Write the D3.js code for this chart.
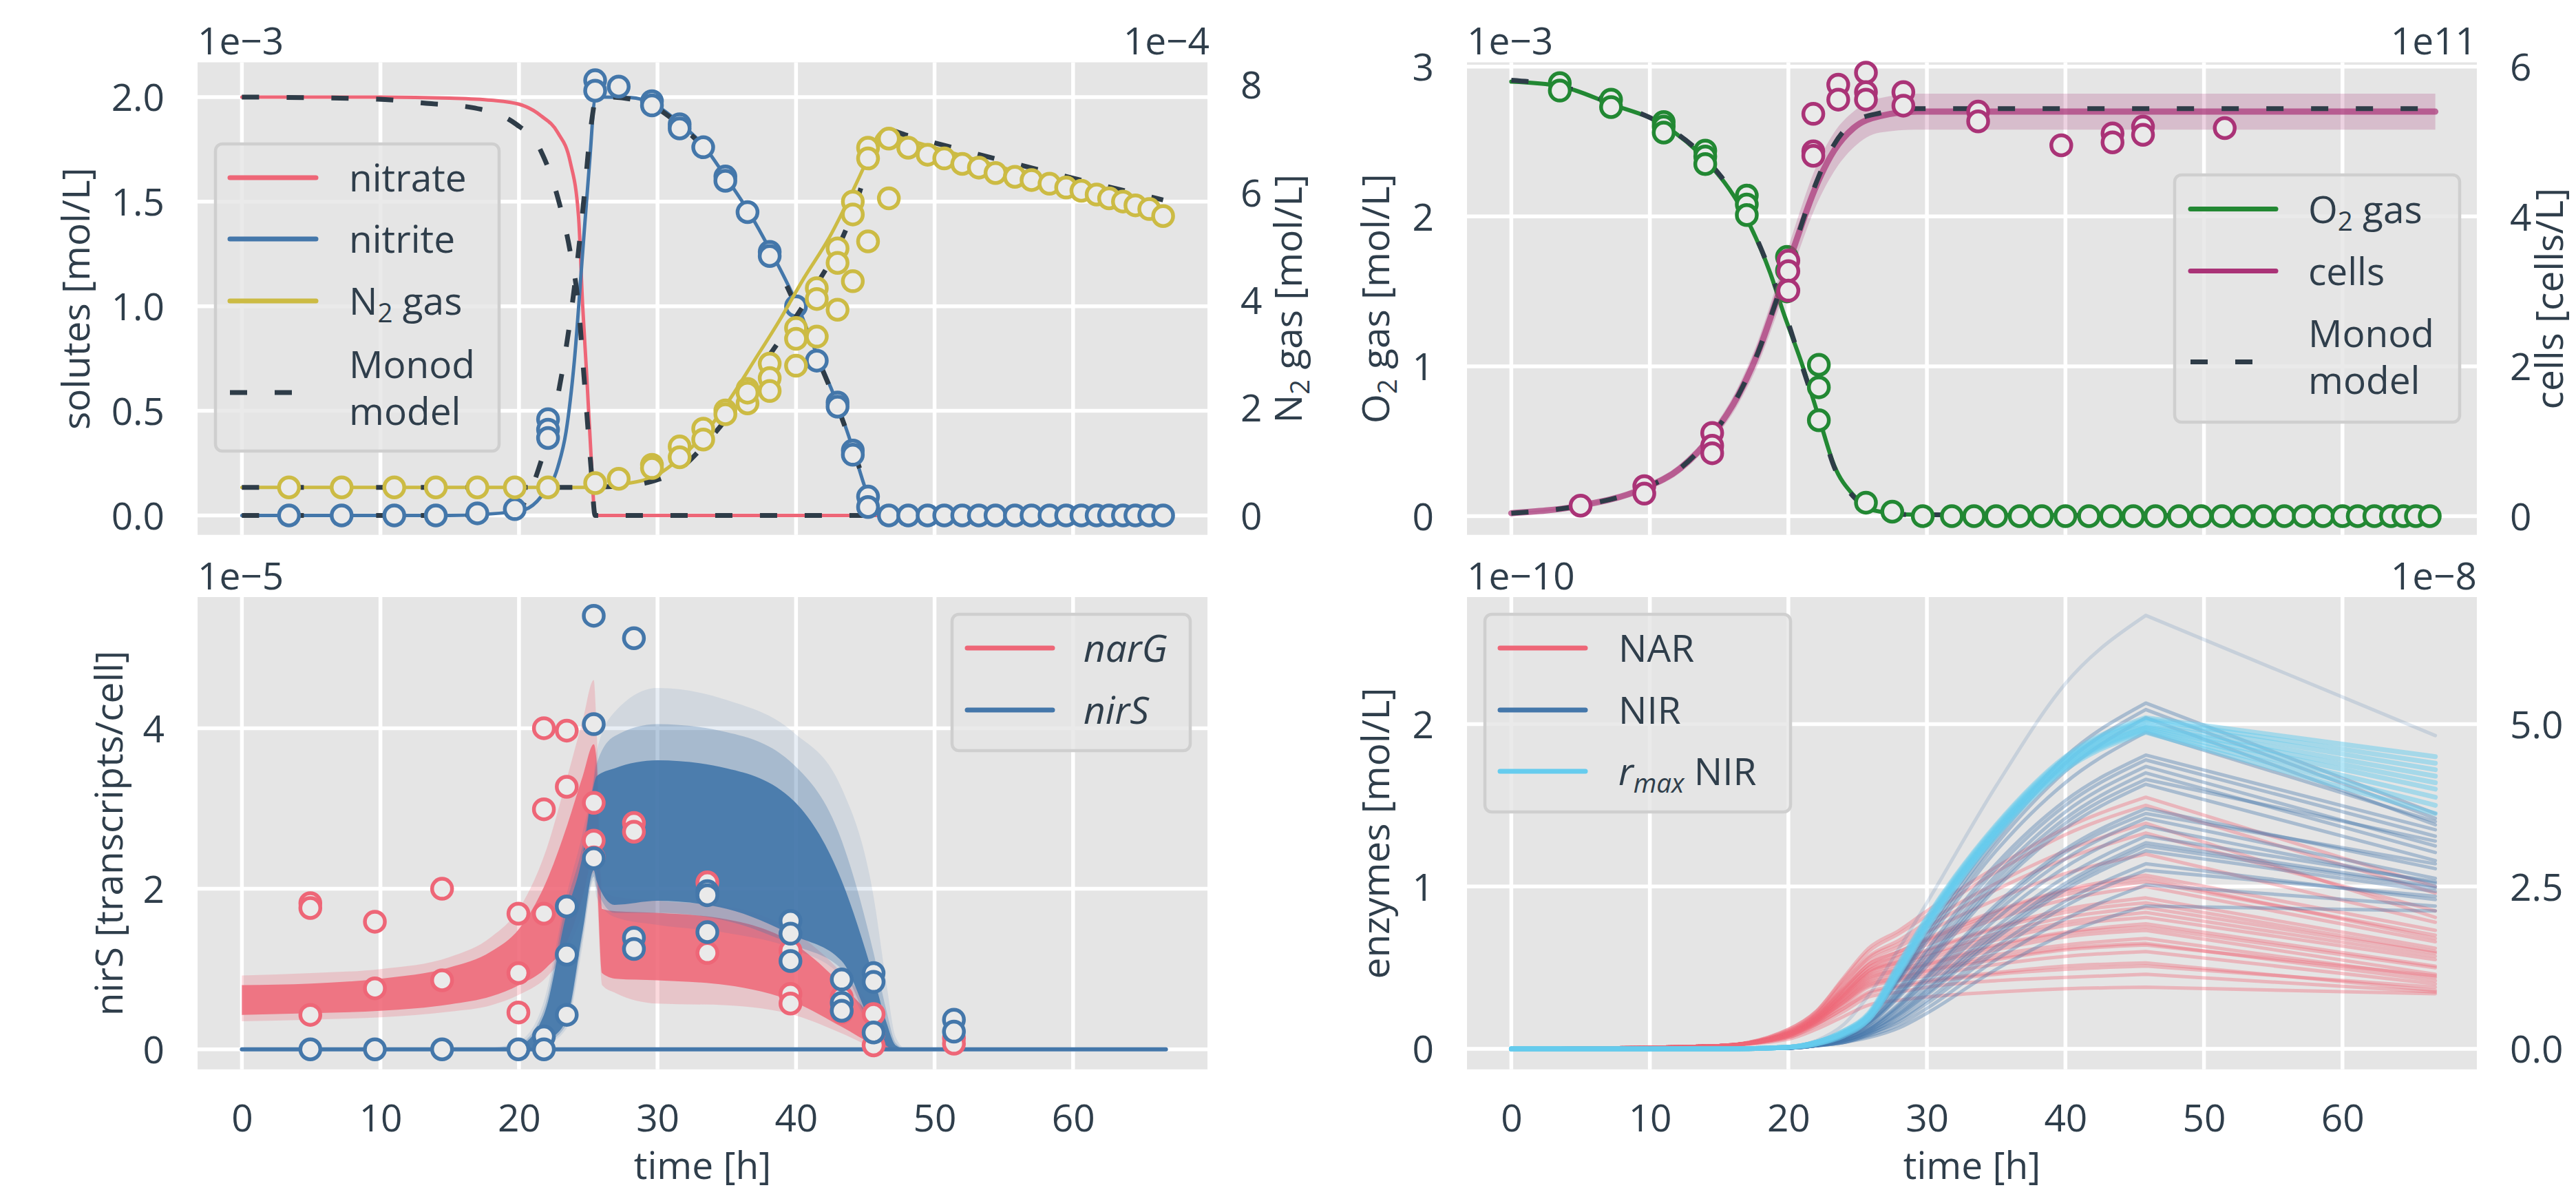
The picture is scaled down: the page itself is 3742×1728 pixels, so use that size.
<!DOCTYPE html>
<html>
<head>
<meta charset="utf-8">
<script src="https://cdn.jsdelivr.net/npm/d3@7"></script>
<style>
  body { margin: 0; background: #fff; }
  text { font-family: "Open Sans", sans-serif; fill: #2f3e4b; white-space: pre; }
</style>
</head>
<body>
<svg id="fig" width="3742" height="1728"></svg>
<script>
// ---------------- data ----------------
// top left: solutes (left axis, 1e-3 mol/L) and N2 gas (right axis, 1e-4 mol/L)
var nitrateT = [0, 10, 15, 18, 20, 21.6, 22.8, 23.7, 24.3, 24.6, 24.9, 25.2, 25.5, 66.5];
var nitrateFit = [2.0, 2.0, 1.995, 1.985, 1.966, 1.91, 1.83, 1.69, 1.43, 1.0, 0.66, 0.29, 0, 0];
var nitrateMonodT = [0, 9.8, 13.3, 16.6, 19.8, 21.6, 22.8, 23.7, 24.3, 24.7, 25.2, 25.5, 66.5];
var nitrateMonod = [2.0, 1.99, 1.97, 1.95, 1.87, 1.74, 1.52, 1.26, 1.0, 0.66, 0.23, 0, 0];

var nitriteT = [0, 15, 20, 21.6, 22.8, 23.4, 24, 24.6, 25.1, 25.5, 26.1, 28.1, 29.6, 31.7, 33.3, 35, 36.6, 38.2, 40, 41.5, 43, 44.1, 45, 45.6, 46.2, 66.5];
var nitriteFit = [0, 0, 0.02, 0.09, 0.23, 0.4, 0.74, 1.26, 1.69, 1.99, 2.0, 1.997, 1.97, 1.87, 1.77, 1.61, 1.45, 1.26, 1.02, 0.77, 0.53, 0.32, 0.13, 0.03, 0, 0];
var nitriteMonodT = [0, 15, 18, 20, 21.6, 22.8, 24, 24.7, 25.2, 25.6, 26.5, 28.1, 29.6, 31.7, 33.3, 35, 36.6, 38.2, 40, 41.5, 43, 44.1, 45, 45.8, 46.4, 66.5];
var nitriteMonod = [0, 0, 0.01, 0.036, 0.26, 0.57, 1.09, 1.52, 1.86, 2.0, 2.0, 1.99, 1.96, 1.86, 1.76, 1.6, 1.44, 1.25, 1.0, 0.76, 0.52, 0.32, 0.15, 0.03, 0, 0];

var n2T = [0, 22, 25.5, 27.5, 29.9, 31.7, 33.5, 35.2, 37, 38.8, 40.6, 42.4, 44.1, 45.3, 45.9, 46.2, 48, 56, 66.5];
var n2Fit = [0.52, 0.52, 0.52, 0.58, 0.74, 1.08, 1.55, 2.15, 2.88, 3.62, 4.42, 5.16, 6.03, 6.70, 7.05, 7.12, 6.98, 6.38, 5.62];
var n2MonodT = [0, 24, 27.5, 29.3, 31.7, 33.5, 35.8, 38.2, 40, 41.8, 43, 44.1, 45.3, 46.3, 48, 56, 66.5];
var n2Monod = [0.52, 0.52, 0.55, 0.61, 0.88, 1.34, 2.08, 3.02, 3.69, 4.42, 4.96, 5.63, 6.56, 7.18, 7.06, 6.52, 5.86];

var nitriteObsT = [3.4, 7.2, 11, 14, 17, 19.7, 22.1, 22.1, 22.1, 25.5, 25.5, 27.2, 29.6, 29.6, 31.6, 31.6, 33.3, 34.9, 34.9, 36.5, 38.1, 38.1, 40, 41.5, 43, 43, 44.1, 44.1, 45.2, 45.2,
  46.7, 48.1, 49.5, 50.7, 52.0, 53.2, 54.4, 55.8, 57.0, 58.3, 59.5, 60.6, 61.7, 62.6, 63.6, 64.5, 65.5, 66.5];
var nitriteObs = [0, 0, 0, 0, 0.01, 0.03, 0.46, 0.41, 0.37, 2.08, 2.03, 2.05, 1.98, 1.96, 1.87, 1.85, 1.76, 1.62, 1.60, 1.45, 1.26, 1.24, 1.0, 0.74, 0.54, 0.52, 0.31, 0.29, 0.09, 0.04,
  0, 0, 0, 0, 0, 0, 0, 0, 0, 0, 0, 0, 0, 0, 0, 0, 0, 0];

var n2ObsT = [3.4, 7.2, 11, 14, 17, 19.7, 22.1, 25.5, 27.2, 29.6, 29.6, 31.6, 31.6, 33.3, 33.3, 34.9, 34.9, 36.5, 36.5, 36.5, 38.1, 38.1, 38.1, 40, 40, 40, 41.5, 41.5, 41.5,
  43, 43, 43, 44.1, 44.1, 44.1, 45.2, 45.2, 45.2, 46.7, 46.7, 48.1, 49.5, 50.7, 52.0, 53.2, 54.4, 55.8, 57.0, 58.3, 59.5, 60.6, 61.7, 62.6, 63.6, 64.5, 65.5, 66.5];
var n2Obs = [0.52, 0.52, 0.52, 0.52, 0.52, 0.52, 0.52, 0.6, 0.68, 0.94, 0.88, 1.28, 1.08, 1.61, 1.41, 1.95, 1.88, 2.35, 2.08, 2.28, 2.82, 2.55, 2.31, 3.48, 3.28, 2.78, 4.22, 4.02, 3.32,
  4.96, 4.69, 3.82, 5.83, 5.59, 4.35, 6.83, 6.63, 5.09, 7.0, 5.89, 6.83, 6.70, 6.63, 6.53, 6.46, 6.36, 6.29, 6.23, 6.16, 6.09, 6.03, 5.96, 5.89, 5.83, 5.76, 5.69, 5.56];

// top right: O2 gas (left, 1e-3 mol/L) and cells (right, 1e11 cells/L)
var o2T = [0, 3.5, 7.2, 11, 14, 16.8, 18.7, 19.6, 21, 22.2, 23.3, 24.7, 26.1, 28.9, 66.5];
var o2Fit = [2.90, 2.87, 2.75, 2.61, 2.38, 2.02, 1.62, 1.37, 1.01, 0.66, 0.34, 0.14, 0.04, 0.01, 0];
var o2Monod = [2.91, 2.87, 2.76, 2.61, 2.39, 2.03, 1.63, 1.40, 1.0, 0.66, 0.33, 0.13, 0.04, 0.01, 0];

var cellsT = [0, 5, 9.4, 12.2, 14.5, 16.4, 17.8, 19.1, 20.5, 21.9, 23.3, 24.7, 26.6, 29.3, 66.7];
var cellsFit = [0.04, 0.14, 0.36, 0.64, 1.08, 1.62, 2.18, 2.86, 3.64, 4.36, 4.88, 5.18, 5.34, 5.40, 5.40];
var cellsLow = [0.03, 0.12, 0.32, 0.58, 1.0, 1.5, 2.02, 2.66, 3.4, 4.1, 4.6, 4.92, 5.12, 5.16, 5.16];
var cellsHigh = [0.05, 0.16, 0.4, 0.7, 1.16, 1.74, 2.34, 3.06, 3.88, 4.62, 5.12, 5.4, 5.58, 5.64, 5.64];
var cellsMonod = [0.04, 0.14, 0.36, 0.64, 1.08, 1.62, 2.18, 2.86, 3.64, 4.4, 4.96, 5.26, 5.38, 5.44, 5.44];

var o2ObsT = [3.5, 3.5, 7.2, 7.2, 11, 11, 11, 14, 14, 14, 17, 17, 17, 19.9, 19.9, 19.9, 22.2, 22.2, 22.2, 25.6, 27.5,
  29.7, 31.8, 33.4, 35.0, 36.7, 38.3, 40.0, 41.7, 43.3, 44.9, 46.5, 48.2, 49.8, 51.3, 52.8, 54.3, 55.8, 57.2, 58.6, 60.0, 61.1, 62.3, 63.5, 64.4, 65.3, 66.3];
var o2Obs = [2.89, 2.84, 2.78, 2.73, 2.63, 2.60, 2.56, 2.44, 2.40, 2.35, 2.14, 2.08, 2.01, 1.73, 1.64, 1.50, 1.01, 0.86, 0.64, 0.09, 0.03,
  0, 0, 0, 0, 0, 0, 0, 0, 0, 0, 0, 0, 0, 0, 0, 0, 0, 0, 0, 0, 0, 0, 0, 0, 0, 0];
var cellsObsT = [5.0, 9.6, 9.6, 14.5, 14.5, 14.5, 20.0, 20.0, 20.0, 21.8, 21.8, 21.8, 23.6, 23.6, 25.6, 25.6, 25.6, 28.3, 28.3, 33.7, 33.7, 39.7, 43.4, 43.4, 45.6, 45.6, 51.5];
var cellsObs = [0.14, 0.40, 0.30, 1.11, 0.94, 0.84, 3.41, 3.27, 3.01, 5.37, 4.87, 4.81, 5.76, 5.56, 5.92, 5.66, 5.56, 5.66, 5.48, 5.40, 5.27, 4.95, 5.11, 4.99, 5.20, 5.09, 5.18];

// bottom left: transcripts (1e-5 transcripts/cell), ensemble envelopes
var narGT = [0, 5, 10, 15, 18, 20, 22, 23.5, 24.6, 25.4, 25.6, 26, 27, 30, 35, 40, 43.3, 45.6, 46.5, 47.5, 66.7];
var narGCoreLow = [0.43, 0.45, 0.48, 0.56, 0.66, 0.8, 1.02, 1.35, 1.9, 2.4, 2.2, 0.95, 0.88, 0.86, 0.8, 0.58, 0.28, 0.06, 0, 0, 0];
var narGCoreHigh = [0.80, 0.82, 0.88, 1.02, 1.22, 1.5, 2.1, 2.8, 3.4, 3.8, 3.6, 1.75, 1.72, 1.7, 1.62, 1.3, 0.8, 0.34, 0.05, 0, 0];
var narGOuterLow = [0.35, 0.37, 0.4, 0.47, 0.55, 0.68, 0.9, 1.25, 1.7, 2.2, 2.0, 0.8, 0.7, 0.57, 0.55, 0.42, 0.2, 0.03, 0, 0, 0];
var narGOuterHigh = [0.92, 0.95, 1.0, 1.15, 1.4, 1.75, 2.5, 3.4, 4.1, 4.6, 4.0, 2.0, 1.9, 1.85, 1.78, 1.45, 0.95, 0.45, 0.1, 0, 0];

var nirST = [0, 15, 18, 20, 21.8, 23.4, 24.6, 25.4, 25.6, 26.9, 30, 35, 39.8, 43.3, 45.6, 46.5, 47.2, 48, 66.7];
var nirSCoreLow = [0, 0, 0, 0, 0.09, 0.35, 1.48, 2.23, 2.1, 1.8, 1.85, 1.75, 1.42, 1.1, 0.27, 0.05, 0, 0, 0];
var nirSCoreHigh = [0, 0, 0.01, 0.05, 0.43, 1.67, 2.42, 3.29, 3.4, 3.5, 3.6, 3.5, 3.1, 2.1, 0.9, 0.35, 0.05, 0, 0];
var nirSMidLow = [0, 0, 0, 0, 0.07, 0.3, 1.4, 2.15, 2.0, 1.7, 1.7, 1.6, 1.3, 1.0, 0.22, 0.04, 0, 0, 0];
var nirSMidHigh = [0, 0, 0.015, 0.07, 0.5, 1.8, 2.55, 3.35, 3.55, 3.9, 4.05, 3.95, 3.55, 2.6, 1.2, 0.5, 0.08, 0, 0];
var nirSOuterLow = [0, 0, 0, 0, 0.05, 0.25, 1.3, 2.1, 1.9, 1.65, 1.55, 1.45, 1.25, 0.9, 0.2, 0.03, 0, 0, 0];
var nirSOuterHigh = [0, 0, 0.02, 0.1, 0.6, 1.9, 2.7, 3.4, 3.7, 4.2, 4.5, 4.35, 3.95, 3.25, 1.9, 0.85, 0.15, 0, 0];
var nirSBaseT = [0, 66.7];
var nirSBase = [0, 0];

var narGObsT = [4.94, 4.94, 4.94, 9.6, 9.6, 14.45, 14.45, 19.96, 19.96, 19.96, 21.8, 21.8, 21.8, 23.45, 23.45, 25.4, 25.4, 25.4, 28.3, 28.3, 28.3, 33.6, 33.6, 39.6, 39.6, 39.6, 43.3, 43.3, 45.6, 45.6, 45.6, 51.4, 51.4];
var narGObs = [1.82, 1.76, 0.43, 1.59, 0.76, 2.0, 0.86, 1.69, 0.95, 0.46, 4.0, 2.99, 1.69, 3.97, 3.27, 3.07, 2.6, 2.39, 2.82, 2.71, 1.29, 2.08, 1.2, 1.23, 0.69, 0.57, 0.65, 0.46, 0.44, 0.2, 0.05, 0.14, 0.07];
var nirSObsT = [4.94, 9.6, 14.45, 19.96, 21.8, 21.8, 23.45, 23.45, 23.45, 25.4, 25.4, 25.4, 28.3, 28.3, 28.3, 33.6, 33.6, 33.6, 39.6, 39.6, 39.6, 43.3, 43.3, 43.3, 45.6, 45.6, 45.6, 51.4, 51.4];
var nirSObs = [0, 0, 0, 0, 0.16, 0, 1.78, 1.18, 0.43, 5.4, 4.05, 2.38, 5.12, 1.39, 1.25, 1.97, 1.92, 1.46, 1.6, 1.44, 1.1, 0.87, 0.58, 0.48, 0.95, 0.84, 0.21, 0.37, 0.22];

// bottom right: enzymes (1e-10 mol/L), one row per ensemble member; peak at t = 45.8
var enzT = [0, 15, 20, 22, 24, 25.8, 28, 30, 35, 40, 45.8, 66.7];
var narLines = [
  [0, 0.02, 0.12, 0.23, 0.44, 0.62, 0.73, 0.85, 1.12, 1.36, 1.55, 1.00],
  [0, 0.02, 0.12, 0.23, 0.43, 0.60, 0.71, 0.82, 1.09, 1.32, 1.50, 0.96],
  [0, 0.02, 0.11, 0.22, 0.41, 0.57, 0.67, 0.78, 1.02, 1.22, 1.39, 0.81],
  [0, 0.02, 0.11, 0.21, 0.40, 0.56, 0.65, 0.75, 0.98, 1.17, 1.33, 0.85],
  [0, 0.02, 0.10, 0.21, 0.38, 0.54, 0.63, 0.72, 0.92, 1.08, 1.20, 0.78],
  [0, 0.02, 0.10, 0.20, 0.37, 0.52, 0.60, 0.68, 0.85, 0.98, 1.07, 0.73],
  [0, 0.02, 0.10, 0.20, 0.37, 0.52, 0.60, 0.67, 0.84, 0.97, 1.05, 0.68],
  [0, 0.02, 0.10, 0.20, 0.36, 0.50, 0.58, 0.66, 0.82, 0.95, 1.03, 0.70],
  [0, 0.02, 0.10, 0.19, 0.35, 0.50, 0.57, 0.64, 0.80, 0.92, 1.00, 0.66],
  [0, 0.02, 0.09, 0.19, 0.34, 0.48, 0.55, 0.61, 0.75, 0.86, 0.93, 0.62],
  [0, 0.02, 0.09, 0.19, 0.34, 0.48, 0.54, 0.60, 0.74, 0.84, 0.90, 0.60],
  [0, 0.02, 0.09, 0.18, 0.33, 0.47, 0.53, 0.58, 0.71, 0.81, 0.87, 0.59],
  [0, 0.02, 0.09, 0.18, 0.33, 0.46, 0.52, 0.57, 0.69, 0.78, 0.84, 0.57],
  [0, 0.02, 0.09, 0.18, 0.32, 0.45, 0.50, 0.55, 0.67, 0.76, 0.81, 0.55],
  [0, 0.02, 0.09, 0.18, 0.31, 0.44, 0.49, 0.53, 0.64, 0.72, 0.77, 0.51],
  [0, 0.02, 0.09, 0.17, 0.31, 0.43, 0.48, 0.52, 0.63, 0.71, 0.75, 0.50],
  [0, 0.02, 0.09, 0.17, 0.30, 0.42, 0.47, 0.51, 0.61, 0.69, 0.73, 0.46],
  [0, 0.02, 0.08, 0.17, 0.29, 0.41, 0.45, 0.49, 0.58, 0.64, 0.68, 0.44],
  [0, 0.02, 0.08, 0.17, 0.29, 0.40, 0.44, 0.48, 0.56, 0.62, 0.65, 0.42],
  [0, 0.02, 0.08, 0.16, 0.28, 0.39, 0.43, 0.47, 0.55, 0.61, 0.64, 0.45],
  [0, 0.02, 0.08, 0.16, 0.27, 0.38, 0.42, 0.45, 0.52, 0.57, 0.60, 0.40],
  [0, 0.02, 0.08, 0.15, 0.25, 0.35, 0.39, 0.42, 0.47, 0.51, 0.53, 0.36],
  [0, 0.02, 0.07, 0.15, 0.25, 0.34, 0.38, 0.41, 0.46, 0.49, 0.51, 0.38],
  [0, 0.02, 0.07, 0.14, 0.23, 0.32, 0.35, 0.38, 0.42, 0.44, 0.46, 0.35],
  [0, 0.02, 0.06, 0.12, 0.20, 0.27, 0.30, 0.32, 0.35, 0.37, 0.38, 0.34]
];
var nirLines = [
  [0, 0, 0.01, 0.05, 0.15, 0.33, 0.62, 0.90, 1.62, 2.25, 2.67, 1.93],
  [0, 0, 0.005, 0.03, 0.09, 0.20, 0.45, 0.72, 1.32, 1.80, 2.13, 1.45],
  [0, 0, 0.005, 0.03, 0.09, 0.20, 0.44, 0.70, 1.29, 1.76, 2.09, 1.42],
  [0, 0, 0.005, 0.03, 0.09, 0.19, 0.43, 0.68, 1.26, 1.71, 2.04, 1.38],
  [0, 0, 0.005, 0.03, 0.09, 0.19, 0.42, 0.66, 1.22, 1.64, 1.95, 1.40],
  [0, 0, 0.005, 0.03, 0.08, 0.18, 0.38, 0.61, 1.14, 1.53, 1.81, 1.35],
  [0, 0, 0.005, 0.03, 0.08, 0.17, 0.37, 0.59, 1.11, 1.50, 1.78, 1.31],
  [0, 0, 0.005, 0.03, 0.08, 0.16, 0.35, 0.56, 1.07, 1.46, 1.74, 1.25],
  [0, 0, 0.005, 0.03, 0.07, 0.16, 0.34, 0.54, 1.04, 1.42, 1.70, 1.21],
  [0, 0, 0.005, 0.03, 0.07, 0.15, 0.33, 0.53, 1.01, 1.39, 1.66, 1.28],
  [0, 0, 0.005, 0.02, 0.07, 0.15, 0.32, 0.51, 0.99, 1.36, 1.63, 1.16],
  [0, 0, 0.005, 0.02, 0.06, 0.13, 0.28, 0.45, 0.89, 1.23, 1.48, 1.11],
  [0, 0, 0.005, 0.02, 0.06, 0.13, 0.27, 0.44, 0.87, 1.21, 1.45, 1.14],
  [0, 0, 0.005, 0.02, 0.06, 0.12, 0.26, 0.42, 0.84, 1.17, 1.42, 1.05],
  [0, 0, 0.005, 0.02, 0.06, 0.12, 0.25, 0.40, 0.80, 1.12, 1.37, 1.02],
  [0, 0, 0.005, 0.02, 0.05, 0.11, 0.23, 0.37, 0.75, 1.06, 1.31, 1.03],
  [0, 0, 0.005, 0.02, 0.05, 0.11, 0.22, 0.36, 0.72, 1.02, 1.27, 1.00],
  [0, 0, 0.005, 0.02, 0.05, 0.10, 0.21, 0.34, 0.70, 1.00, 1.25, 0.99],
  [0, 0, 0.005, 0.02, 0.05, 0.10, 0.20, 0.33, 0.68, 0.98, 1.22, 0.97],
  [0, 0, 0.005, 0.02, 0.04, 0.09, 0.18, 0.30, 0.63, 0.91, 1.14, 0.92],
  [0, 0, 0.005, 0.02, 0.04, 0.09, 0.17, 0.28, 0.60, 0.88, 1.10, 0.94],
  [0, 0, 0.005, 0.02, 0.04, 0.08, 0.15, 0.25, 0.55, 0.80, 1.01, 0.88],
  [0, 0, 0.005, 0.02, 0.04, 0.07, 0.13, 0.22, 0.49, 0.71, 0.88, 0.85]
];
var rmaxLines = [
  [0, 0, 0.01, 0.04, 0.11, 0.22, 0.53, 0.81, 1.38, 1.80, 2.04, 1.80],
  [0, 0, 0.01, 0.04, 0.11, 0.21, 0.52, 0.80, 1.37, 1.79, 2.03, 1.76],
  [0, 0, 0.01, 0.04, 0.10, 0.21, 0.51, 0.79, 1.36, 1.78, 2.02, 1.72],
  [0, 0, 0.01, 0.04, 0.10, 0.20, 0.50, 0.78, 1.35, 1.77, 2.00, 1.68],
  [0, 0, 0.01, 0.04, 0.10, 0.20, 0.49, 0.77, 1.34, 1.76, 1.99, 1.64],
  [0, 0, 0.01, 0.04, 0.10, 0.20, 0.49, 0.77, 1.34, 1.75, 1.98, 1.60],
  [0, 0, 0.01, 0.03, 0.09, 0.19, 0.48, 0.76, 1.33, 1.74, 1.97, 1.55],
  [0, 0, 0.01, 0.03, 0.09, 0.18, 0.47, 0.75, 1.32, 1.73, 1.96, 1.50],
  [0, 0, 0.01, 0.03, 0.08, 0.18, 0.46, 0.74, 1.31, 1.72, 1.95, 1.45]
];

// axis ticks
var xTicks = [0, 10, 20, 30, 40, 50, 60];
var soluteTicks = [0, 0.5, 1.0, 1.5, 2.0];
var n2Ticks = [0, 2, 4, 6, 8];
var o2Ticks = [0, 1, 2, 3];
var cellTicks = [0, 2, 4, 6];
var transcriptTicks = [0, 2, 4];
var enzymeTicks = [0, 1, 2];
var enzymeRightTicks = [0, 2.5, 5.0];

// ---------------- drawing ----------------
var FONT = 55;
var TEXT = "#2f3e4b";
var DARK = "#2e3c48";
var col = { red: "#EE6677", blue: "#4477AA", yellow: "#CCBB44", green: "#228833", purple: "#AA3377", cyan: "#66CCEE" };
var markerFill = "#eaeaea";

var svg = d3.select("#fig");
svg.append("rect").attr("width", 3742).attr("height", 1728).attr("fill", "#fff");

var boxes = {
  tl: { l: 287, r: 1754, t: 90.5, b: 776.7 },
  tr: { l: 2131, r: 3598, t: 90.5, b: 776.7 },
  bl: { l: 287, r: 1754, t: 867, b: 1552.8 },
  br: { l: 2131, r: 3598, t: 867, b: 1552.8 }
};

function styleAxis(ax) {
  ax.attr("font-size", FONT).attr("font-family", '"Open Sans", sans-serif');
  ax.select(".domain").remove();
  ax.selectAll("text").attr("fill", TEXT);
}

function panel(key, yDom, yTicks, yFmt, showX) {
  var b = boxes[key];
  var x = d3.scaleLinear().domain([-3.2, 69.7]).range([b.l, b.r]);
  var y = d3.scaleLinear().domain(yDom).range([b.b, b.t]);
  var g = svg.append("g");
  g.append("rect").attr("x", b.l).attr("y", b.t).attr("width", b.r - b.l).attr("height", b.b - b.t).attr("fill", "#e5e5e5");
  g.selectAll(null).data(xTicks).join("line")
    .attr("x1", d => x(d)).attr("x2", d => x(d)).attr("y1", b.t).attr("y2", b.b)
    .attr("stroke", "#fff").attr("stroke-width", 5.5);
  g.selectAll(null).data(yTicks).join("line")
    .attr("y1", d => y(d)).attr("y2", d => y(d)).attr("x1", b.l).attr("x2", b.r)
    .attr("stroke", "#fff").attr("stroke-width", 5.5);

  var ax = g.append("g").attr("transform", `translate(${b.l},0)`)
    .call(d3.axisLeft(y).tickValues(yTicks).tickFormat(yFmt).tickSize(0).tickPadding(48));
  styleAxis(ax);
  ax.selectAll("text").attr("dy", "0.36em");

  if (showX) {
    var bx = g.append("g").attr("transform", `translate(0,${b.b})`)
      .call(d3.axisBottom(x).tickValues(xTicks).tickFormat(d3.format("d")).tickSize(0));
    styleAxis(bx);
    bx.selectAll("text").attr("y", 90).attr("dy", 0);
  }

  svg.append("clipPath").attr("id", "clip-" + key)
    .append("rect").attr("x", b.l).attr("y", b.t).attr("width", b.r - b.l).attr("height", b.b - b.t);
  var plot = svg.append("g").attr("clip-path", `url(#clip-${key})`);
  var marks = svg.append("g");
  return { x: x, y: y, b: b, plot: plot, marks: marks, key: key };
}

// a twin axes draws on top of the first one
function twinLayers(p) {
  p.plot = svg.append("g").attr("clip-path", `url(#clip-${p.key})`);
  p.marks = svg.append("g");
}

function rightAxis(p, yDom, ticks, fmt) {
  var y2 = d3.scaleLinear().domain(yDom).range([p.b.b, p.b.t]);
  var ax = svg.append("g").attr("transform", `translate(${p.b.r},0)`)
    .call(d3.axisRight(y2).tickValues(ticks).tickFormat(fmt).tickSize(0).tickPadding(48));
  styleAxis(ax);
  ax.selectAll("text").attr("dy", "0.36em");
  return y2;
}

function zipped(xs, ys) { return xs.map((t, i) => [t, ys[i]]); }

function drawLine(p, yS, xs, ys, color, opt) {
  opt = opt || {};
  var ln = d3.line().x(d => p.x(d[0])).y(d => yS(d[1])).curve(opt.curve || d3.curveMonotoneX);
  var path = p.plot.append("path").datum(zipped(xs, ys))
    .attr("d", ln).attr("fill", "none").attr("stroke", color)
    .attr("stroke-width", opt.width || 5)
    .attr("stroke-opacity", opt.opacity == null ? 1 : opt.opacity)
    .attr("stroke-linejoin", "round").attr("stroke-linecap", opt.dash ? "butt" : "round");
  if (opt.dash) path.attr("stroke-dasharray", opt.dash);
  return path;
}

// smooth rise up to the peak, straight decline after it
function drawPeakLine(p, yS, xs, ys, color, width, opacity) {
  var k = xs.length - 1;
  var pts = zipped(xs, ys);
  var rise = d3.line().x(d => p.x(d[0])).y(d => yS(d[1])).curve(d3.curveMonotoneX)(pts.slice(0, k));
  var d = rise + "L" + p.x(xs[k]) + "," + yS(ys[k]);
  p.plot.append("path").attr("d", d).attr("fill", "none").attr("stroke", color)
    .attr("stroke-width", width).attr("stroke-opacity", opacity)
    .attr("stroke-linejoin", "round").attr("stroke-linecap", "round");
}

function drawBand(p, yS, xs, lo, hi, color, opacity) {
  var ar = d3.area().x((d, i) => p.x(xs[i])).y0((d, i) => yS(lo[i])).y1((d, i) => yS(hi[i])).curve(d3.curveMonotoneX);
  p.plot.append("path").datum(xs).attr("d", ar).attr("fill", color).attr("fill-opacity", opacity);
}

function drawMarkers(p, yS, xs, ys, color) {
  p.marks.selectAll(null).data(zipped(xs, ys)).join("circle")
    .attr("cx", d => p.x(d[0])).attr("cy", d => yS(d[1])).attr("r", 14.5)
    .attr("fill", markerFill).attr("stroke", color).attr("stroke-width", 5.5);
}

// text with optional subscripts / italics: parts = [[string, style]]
function rich(sel, parts, size) {
  size = size || FONT;
  var shifted = false;
  parts.forEach(function (pt) {
    var s = pt[0], st = pt[1] || "";
    var ts = sel.append("tspan").text(s);
    if (st.indexOf("it") >= 0) ts.attr("font-style", "italic");
    if (st.indexOf("sub") >= 0) {
      ts.attr("font-size", size * 0.7);
      if (!shifted) { ts.attr("dy", size * 0.2); shifted = true; }
    } else if (shifted) {
      ts.attr("dy", -size * 0.2); shifted = false;
    }
  });
  return sel;
}

function yLabel(x, y, parts) {
  var t = svg.append("text").attr("transform", `translate(${x},${y}) rotate(-90)`)
    .attr("text-anchor", "middle").attr("font-size", FONT);
  rich(t, parts);
}

function offsetText(x, y, s, anchor) {
  svg.append("text").attr("x", x).attr("y", y).attr("text-anchor", anchor).attr("font-size", FONT).text(s);
}

function legend(bx, items) {
  var g = svg.append("g");
  g.append("rect").attr("x", bx.x).attr("y", bx.y).attr("width", bx.w).attr("height", bx.h)
    .attr("rx", 10).attr("fill", "#e5e5e5").attr("fill-opacity", 0.8)
    .attr("stroke", "#cfcfcf").attr("stroke-width", 4.5);
  items.forEach(function (it) {
    var l = g.append("line").attr("x1", bx.h1).attr("x2", bx.h2).attr("y1", it.hy).attr("y2", it.hy)
      .attr("stroke", it.color).attr("stroke-width", 7);
    if (it.dash) l.attr("stroke-dasharray", "25 40").attr("stroke-linecap", "butt");
    else l.attr("stroke-linecap", "round");
    it.rows.forEach(function (r) {
      var t = g.append("text").attr("x", bx.tx).attr("y", r[0]).attr("font-size", FONT);
      rich(t, r[1]);
    });
  });
}

// ---- top left ----
var tl = panel("tl", [-0.093, 2.166], soluteTicks, d3.format(".1f"), false);
var tlR = rightAxis(tl, [-0.362, 8.416], n2Ticks, d3.format("d"));
drawLine(tl, tl.y, nitrateT, nitrateFit, col.red);
drawLine(tl, tl.y, nitriteT, nitriteFit, col.blue);
drawLine(tl, tl.y, nitrateMonodT, nitrateMonod, DARK, { dash: "25 40", width: 7 });
drawLine(tl, tl.y, nitriteMonodT, nitriteMonod, DARK, { dash: "25 40", width: 7 });
drawMarkers(tl, tl.y, nitriteObsT, nitriteObs, col.blue);
twinLayers(tl);
drawLine(tl, tlR, n2T, n2Fit, col.yellow);
drawLine(tl, tlR, n2MonodT, n2Monod, DARK, { dash: "25 40", width: 7 });
drawMarkers(tl, tlR, n2ObsT, n2Obs, col.yellow);

// ---- top right ----
var tr = panel("tr", [-0.125, 3.029], o2Ticks, d3.format("d"), false);
var trR = rightAxis(tr, [-0.25, 6.058], cellTicks, d3.format("d"));
drawLine(tr, tr.y, o2T, o2Fit, col.green, { width: 6 });
drawLine(tr, tr.y, o2T, o2Monod, DARK, { dash: "25 40", width: 7 });
drawMarkers(tr, tr.y, o2ObsT, o2Obs, col.green);
twinLayers(tr);
drawBand(tr, trR, cellsT, cellsLow, cellsHigh, col.purple, 0.22);
drawLine(tr, trR, cellsT, cellsFit, col.purple, { width: 9, opacity: 0.7 });
drawLine(tr, trR, cellsT, cellsMonod, DARK, { dash: "25 40", width: 7 });
drawMarkers(tr, trR, cellsObsT, cellsObs, col.purple);

// ---- bottom left ----
var bl = panel("bl", [-0.249, 5.633], transcriptTicks, d3.format("d"), true);
drawBand(bl, bl.y, narGT, narGOuterLow, narGOuterHigh, col.red, 0.25);
drawBand(bl, bl.y, narGT, narGCoreLow, narGCoreHigh, col.red, 0.85);
drawBand(bl, bl.y, nirST, nirSOuterLow, nirSOuterHigh, col.blue, 0.12);
drawBand(bl, bl.y, nirST, nirSMidLow, nirSMidHigh, col.blue, 0.3);
drawBand(bl, bl.y, nirST, nirSCoreLow, nirSCoreHigh, col.blue, 0.92);
drawLine(bl, bl.y, nirSBaseT, nirSBase, col.blue, { width: 6, curve: d3.curveLinear });
drawMarkers(bl, bl.y, narGObsT, narGObs, col.red);
drawMarkers(bl, bl.y, nirSObsT, nirSObs, col.blue);

// ---- bottom right ----
var br = panel("br", [-0.126, 2.783], enzymeTicks, d3.format("d"), true);
rightAxis(br, [-0.315, 6.9575], enzymeRightTicks, d3.format(".1f"));
narLines.forEach(v => drawPeakLine(br, br.y, enzT, v, col.red, 5, 0.38));
nirLines.forEach((v, i) => drawPeakLine(br, br.y, enzT, v, col.blue, 5, i === 0 ? 0.18 : 0.38));
rmaxLines.forEach(v => drawPeakLine(br, br.y, enzT, v, col.cyan, 7, 0.5));

// ---- offset texts ----
offsetText(287, 79, "1e\u22123", "start");
offsetText(1757, 79, "1e\u22124", "end");
offsetText(2131, 79, "1e\u22123", "start");
offsetText(3598, 79, "1e11", "end");
offsetText(287, 855.5, "1e\u22125", "start");
offsetText(2131, 855.5, "1e\u221210", "start");
offsetText(3598, 855.5, "1e\u22128", "end");

// ---- axis labels ----
yLabel(130, 433.6, [["solutes [mol/L]"]]);
yLabel(1891, 433.6, [["N"], ["2", "sub"], [" gas [mol/L]"]]);
yLabel(2018, 433.6, [["O"], ["2", "sub"], [" gas [mol/L]"]]);
yLabel(3723, 433.6, [["cells [cells/L]"]]);
yLabel(178, 1210, [["nirS [transcripts/cell]"]]);
yLabel(2018, 1210, [["enzymes [mol/L]"]]);
svg.append("text").attr("x", 1020.5).attr("y", 1712).attr("text-anchor", "middle").attr("font-size", FONT).text("time [h]");
svg.append("text").attr("x", 2864.5).attr("y", 1712).attr("text-anchor", "middle").attr("font-size", FONT).text("time [h]");

// ---- legends ----
legend({ x: 313, y: 209, w: 412, h: 446, h1: 334, h2: 459, tx: 507 }, [
  { color: col.red, hy: 258, rows: [[278, [["nitrate"]]]] },
  { color: col.blue, hy: 347, rows: [[367, [["nitrite"]]]] },
  { color: col.yellow, hy: 437, rows: [[457, [["N"], ["2", "sub"], [" gas"]]]] },
  { color: DARK, hy: 570, dash: true, rows: [[549, [["Monod"]]], [617, [["model"]]]] }
]);
legend({ x: 3159, y: 254, w: 414, h: 359, h1: 3182, h2: 3306, tx: 3353 }, [
  { color: col.green, hy: 303.5, rows: [[323.5, [["O"], ["2", "sub"], [" gas"]]]] },
  { color: col.purple, hy: 393.5, rows: [[413.5, [["cells"]]]] },
  { color: DARK, hy: 525.6, dash: true, rows: [[504, [["Monod"]]], [572, [["model"]]]] }
]);
legend({ x: 1383, y: 892, w: 346, h: 198, h1: 1405, h2: 1529, tx: 1574 }, [
  { color: col.red, hy: 941, rows: [[961, [["narG", "it"]]]] },
  { color: col.blue, hy: 1031, rows: [[1051, [["nirS", "it"]]]] }
]);
legend({ x: 2157, y: 892, w: 444, h: 287, h1: 2179, h2: 2303, tx: 2351 }, [
  { color: col.red, hy: 941, rows: [[961, [["NAR"]]]] },
  { color: col.blue, hy: 1031, rows: [[1051, [["NIR"]]]] },
  { color: col.cyan, hy: 1120, rows: [[1140, [["r", "it"], ["max", "itsub"], [" NIR"]]]] }
]);
</script>
</body>
</html>
